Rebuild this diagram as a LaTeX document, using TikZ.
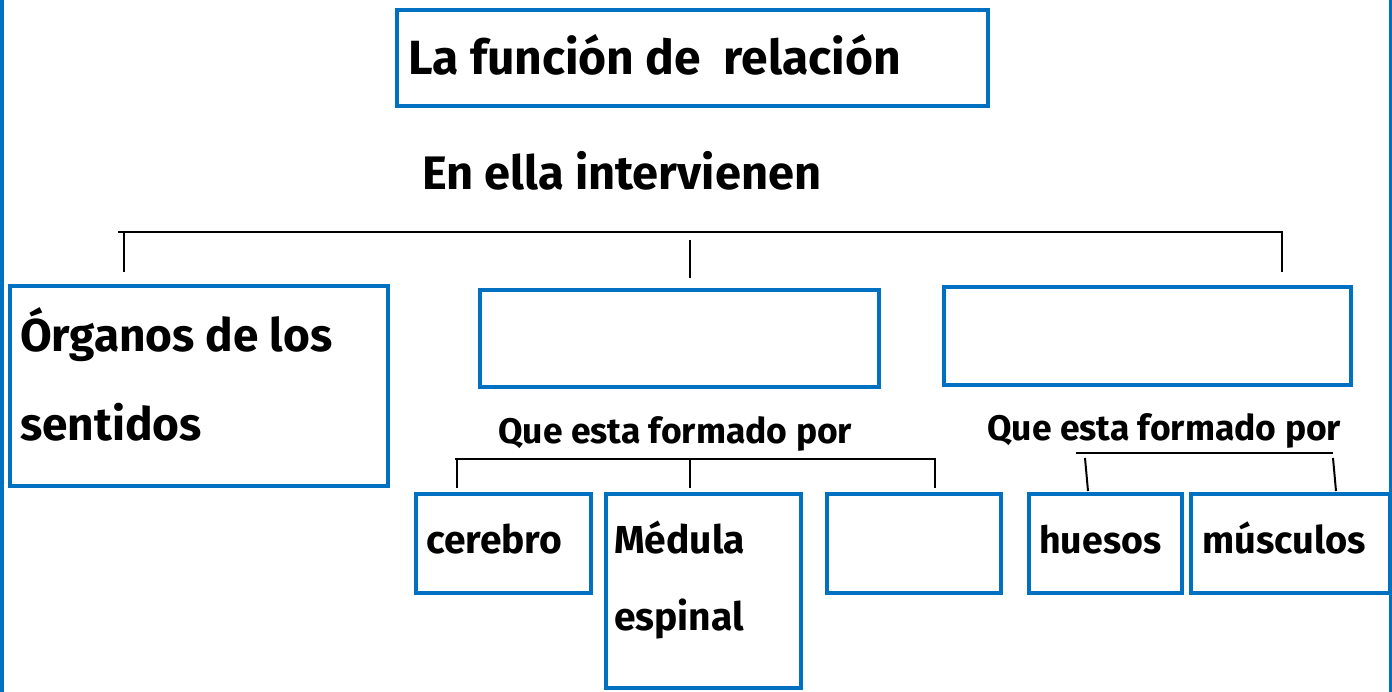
\documentclass[tikz,border=0pt]{standalone}
\usepackage{fontspec}
\setmainfont{Fira Sans}
\definecolor{bblue}{HTML}{0070C0}
\begin{document}
\begin{tikzpicture}[x=1pt,y=-1pt,
  box/.style={draw=bblue,line width=4.5pt,inner sep=0pt,outer sep=0pt,anchor=north west},
  txt/.style={anchor=base west,inner sep=0pt,text=black},
  big/.style={font=\fontsize{47}{54}\selectfont\bfseries},
  mid/.style={font=\fontsize{39}{46}\selectfont\bfseries},
  sml/.style={font=\fontsize{35.5}{42}\selectfont\bfseries},
  conn/.style={draw=black,line width=2pt}]
\useasboundingbox (0,0) rectangle (1392,692);
\fill[white] (0,0) rectangle (1392,692);
\draw[bblue,line width=3.5pt] (1.75,0) -- (1.75,692);
\draw[bblue,line width=3pt] (1390.5,0) -- (1390.5,692);
% boxes
\node[box,minimum width=591pt,minimum height=96pt] (title) at (397,10) {};
\node[box,minimum width=378pt,minimum height=200pt] (organos) at (10,286) {};
\node[box,minimum width=399pt,minimum height=97pt] (midbox) at (480,290) {};
\node[box,minimum width=407pt,minimum height=98pt] (rightbox) at (944,287) {};
\node[box,minimum width=175pt,minimum height=99pt] (cerebro) at (416,494) {};
\node[box,minimum width=195pt,minimum height=194pt] (medula) at (606,494) {};
\node[box,minimum width=174pt,minimum height=99pt] (empty) at (827,494) {};
\node[box,minimum width=153pt,minimum height=99pt] (huesos) at (1029,494) {};
\node[box,minimum width=199pt,minimum height=99pt] (musculos) at (1191,494) {};
% texts
\node[txt,big,font=\fontsize{48}{54}\selectfont\bfseries] (ttitle) at (408,75) {La función de\ \ relación};
\node[txt,big] (tella) at (422,190) {En ella intervienen};
\node[txt,big,font=\fontsize{46}{54}\selectfont\bfseries] (torg1) at (20,352) {Órganos de los};
\node[txt,big,font=\fontsize{46}{54}\selectfont\bfseries] (torg2) at (20,440) {sentidos};
\node[txt,sml] (tque1) at (498,443) {Que esta formado por};
\node[txt,sml] (tque2) at (987,440) {Que esta formado por};
\node[txt,mid] (tcer) at (426,553) {cerebro};
\node[txt,mid] (tmed1) at (614,553) {Médula};
\node[txt,mid] (tmed2) at (614,630) {espinal};
\node[txt,mid,font=\fontsize{37.5}{46}\selectfont\bfseries] (thue) at (1039,553) {huesos};
\node[txt,mid,font=\fontsize{38}{46}\selectfont\bfseries] (tmus) at (1202,553) {músculos};
% top bracket
\coordinate (a1) at (118,232);
\coordinate (a2) at (1282,232);
\coordinate (a3) at (124,232);
\coordinate (a4) at (124,272);
\coordinate (a5) at (690,240);
\coordinate (a6) at (690,278);
\coordinate (a7) at (1282,272);
\draw[conn] (a1) -- (a2) -- (a7);
\draw[conn] (a3) -- (a4);
\draw[conn] (a5) -- (a6);
% left bracket
\coordinate (b1) at (455,459);
\coordinate (b2) at (935,459);
\coordinate (b3) at (457,459);
\coordinate (b4) at (457,488);
\coordinate (b5) at (690,459);
\coordinate (b6) at (690,488);
\coordinate (b7) at (935,488);
\draw[conn] (b1) -- (b2) -- (b7);
\draw[conn] (b3) -- (b4);
\draw[conn] (b5) -- (b6);
% right bracket
\coordinate (c1) at (1076,453);
\coordinate (c2) at (1333,453);
\coordinate (c3) at (1085,458);
\coordinate (c4) at (1088,491);
\coordinate (c5) at (1333,458);
\coordinate (c6) at (1336,491);
\draw[conn] (c1) -- (c2);
\draw[conn] (c3) -- (c4);
\draw[conn] (c5) -- (c6);
\end{tikzpicture}
\end{document}
